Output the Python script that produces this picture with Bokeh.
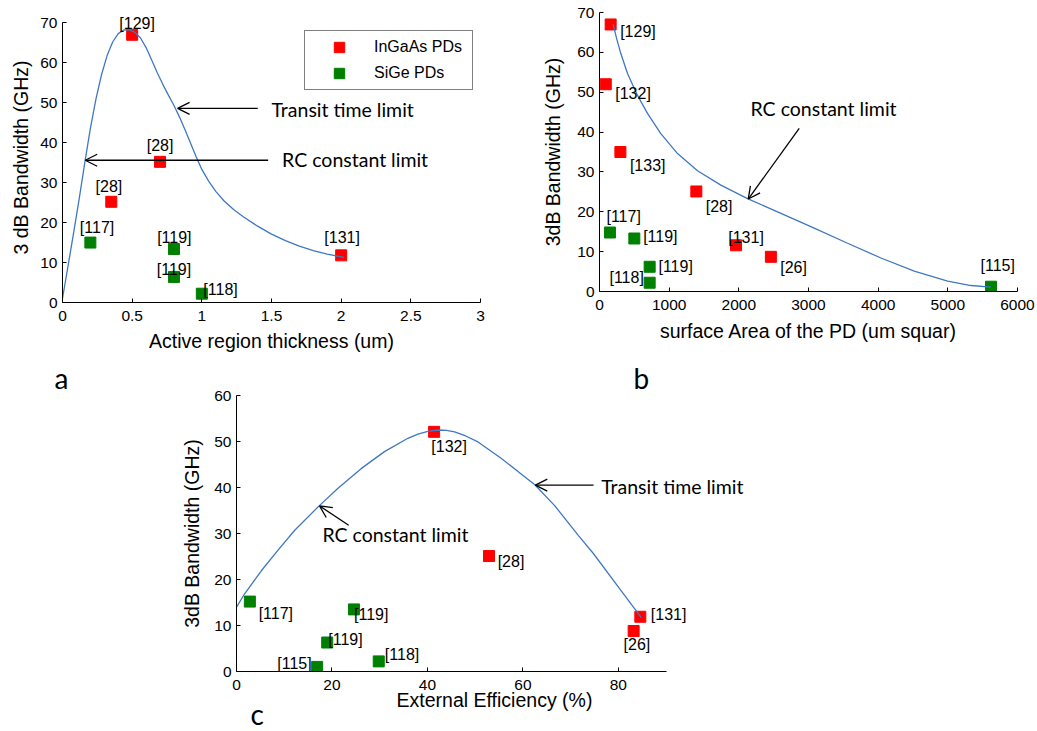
from bokeh.plotting import figure
from bokeh.models import (Range1d, FixedTicker, CustomJSTickFormatter, ColumnDataSource,
                          LabelSet, Label, Arrow, OpenHead, Title, Spacer)
from bokeh.layouts import row, column
from bokeh.core.properties import value
from bokeh.embed import file_html
from bokeh.resources import INLINE

# ---------------- data: panel a (active region thickness) ----------------
a_ingaas_x = [0.5, 0.7, 0.35, 2.0]
a_ingaas_y = [67.0, 35.2, 25.2, 11.8]
a_ingaas_ref = ["[129]", "[28]", "[28]", "[131]"]
a_sige_x = [0.2, 0.8, 0.8, 1.0]
a_sige_y = [15.0, 13.4, 6.4, 2.2]
a_sige_ref = ["[117]", "[119]", "[119]", "[118]"]
a_curve_x = [0, 0.04, 0.08, 0.12, 0.16, 0.20, 0.24, 0.28, 0.32, 0.36, 0.40, 0.44, 0.48,
             0.52, 0.56, 0.60, 0.64, 0.68, 0.72, 0.76, 0.80, 0.84, 0.88, 0.92, 0.96,
             1.00, 1.05, 1.10, 1.16, 1.23, 1.30, 1.40, 1.50, 1.60, 1.70, 1.80, 1.90, 2.02]
a_curve_y = [1.0, 9.2, 17.5, 26.0, 35.0, 43.6, 50.9, 57.0, 61.8, 65.2, 67.3, 68.2, 68.3,
             67.6, 66.2, 63.8, 60.7, 57.5, 54.6, 51.9, 49.3, 46.4, 43.2, 39.8, 36.4,
             33.3, 30.3, 27.8, 25.4, 23.2, 21.4, 19.1, 17.1, 15.5, 14.1, 13.0, 12.1, 11.3]
a_xticks = [0, 0.5, 1, 1.5, 2, 2.5, 3]
a_yticks = [0, 10, 20, 30, 40, 50, 60, 70]

# ---------------- data: panel b (surface area) ----------------
b_ingaas_x = [160, 90, 300, 1390, 1960, 2460]
b_ingaas_y = [67.0, 52.0, 35.0, 25.1, 11.6, 8.7]
b_ingaas_ref = ["[129]", "[132]", "[133]", "[28]", "[131]", "[26]"]
b_sige_x = [150, 500, 720, 720, 5620]
b_sige_y = [14.8, 13.3, 6.2, 2.2, 1.2]
b_sige_ref = ["[117]", "[119]", "[119]", "[118]", "[115]"]
b_curve_x = [196, 250, 306, 402, 545, 689, 880, 1120, 1407, 1742, 2125, 2604, 3082,
             3561, 4040, 4518, 4997, 5332, 5620]
b_curve_y = [67.0, 63.2, 59.7, 54.7, 49.2, 44.7, 39.6, 34.6, 30.3, 26.7, 23.3, 19.6, 15.9,
             12.1, 8.4, 5.1, 2.6, 1.5, 1.1]
b_xticks = [0, 1000, 2000, 3000, 4000, 5000, 6000]
b_yticks = [0, 10, 20, 30, 40, 50, 60, 70]

# ---------------- data: panel c (external efficiency) ----------------
c_ingaas_x = [41.4, 52.9, 84.6, 83.2]
c_ingaas_y = [52.1, 25.1, 11.9, 8.8]
c_ingaas_ref = ["[132]", "[28]", "[131]", "[26]"]
c_sige_x = [2.8, 24.6, 19.0, 29.8, 16.9]
c_sige_y = [15.2, 13.5, 6.3, 2.2, 1.0]
c_sige_ref = ["[117]", "[119]", "[119]", "[118]", "[115]"]
c_curve_x = [0, 1.7, 5.2, 8.7, 12.2, 17.2, 21.2, 26.1, 31.0, 35.9, 38.0, 40.1, 42.2, 44.0,
             45.7, 48.0, 50.6, 55.5, 59.7, 62.5, 66.7, 71.6, 74.8, 79.7, 84.8]
c_curve_y = [14.0, 16.9, 21.9, 26.4, 30.7, 35.9, 39.8, 44.1, 47.8, 50.7, 51.6, 52.2, 52.5, 52.4,
             52.1, 51.2, 49.9, 46.3, 42.9, 40.6, 36.0, 29.6, 25.6, 18.8, 11.7]
c_xticks = [0, 20, 40, 60, 80]
c_yticks = [0, 10, 20, 30, 40, 50, 60]

# ---------------- label placement (screen px: dx right, dy down) ----------------
a_ingaas_off = [(5, -11.4), (0, -16), (-2.3, -15.6), (1, -17.7)]
a_sige_off = [(6.7, -15.3), (0.4, -11.3), (0, -7.7), (18.7, -4.6)]
b_ingaas_off = [(27.3, 6.7), (27.3, 9.3), (27.3, 13.3), (22.7, 15.3), (10, -8), (22.7, 10.3)]
b_sige_off = [(13.7, -16), (26, -2), (26, 0), (-23, -5), (6.7, -21.7)]
c_ingaas_off = [(15, 14.3), (22, 5.7), (28.3, -2.7), (3.3, 13.3)]
c_sige_off = [(26, 11.7), (17.3, 4.7), (18.3, -2.7), (23.3, -6.7), (-22.7, -3)]

# annotations: (text, x, y) and arrows (x_start, y_start, x_end, y_end), in data units
a_notes = [("Transit time limit", 1.5, 48.3), ("RC constant limit", 1.576, 35.8)]
a_arrows = [(1.401, 48.6, 0.826, 48.6), (1.476, 35.6, 0.163, 35.6)]
b_notes = [("RC constant limit", 2168, 46.0)]
b_arrows = [(2867, 40.9, 2135, 23.2)]
c_notes = [("Transit time limit", 76.4, 40.3), ("RC constant limit", 18.0, 29.7)]
c_arrows = [(74.8, 40.5, 62.6, 40.5), (23.5, 31.8, 17.4, 36.0)]

NUM_FONT = "Liberation Sans"
ANN_FONT = "Lato"
RED = "#FF0000"
GREEN = "#008000"
BLUE = "#3F78C2"


def make_fig(w, h, xr, yr, xticks, yticks, xlabel, ylabel, bl, br, bt, bb, xstd, ystd,
             xbounds="auto", ybounds="auto"):
    p = figure(width=w, height=h, x_range=Range1d(*xr), y_range=Range1d(*yr),
               output_backend="svg", toolbar_location=None,
               min_border_left=bl, min_border_right=br, min_border_top=bt, min_border_bottom=bb)
    p.outline_line_color = None
    p.xgrid.visible = False
    p.ygrid.visible = False
    p.background_fill_color = "white"
    p.border_fill_color = "white"
    for ax, ticks, bnd in ((p.xaxis[0], xticks, xbounds), (p.yaxis[0], yticks, ybounds)):
        ax.ticker = FixedTicker(ticks=ticks)
        ax.formatter = CustomJSTickFormatter(code="return String(tick);")
        ax.bounds = bnd
        ax.major_tick_in = 4
        ax.major_tick_out = 0
        ax.minor_tick_line_color = None
        ax.axis_line_color = "black"
        ax.major_tick_line_color = "black"
        ax.major_label_text_font = NUM_FONT
        ax.major_label_text_font_size = "15.5px"
        ax.major_label_text_color = "black"
        ax.axis_label_text_font = NUM_FONT
        ax.axis_label_text_font_size = "19.5px"
        ax.axis_label_text_font_style = "normal"
        ax.axis_label_text_color = "black"
    p.xaxis[0].axis_label = xlabel
    p.yaxis[0].axis_label = ylabel
    p.xaxis[0].major_label_standoff = 8
    p.yaxis[0].major_label_standoff = 5
    p.xaxis[0].axis_label_standoff = xstd
    p.yaxis[0].axis_label_standoff = ystd
    return p


def add_series(p, xs, ys, color, refs, offs, legend=None):
    kw = dict(legend_label=legend) if legend else {}
    p.scatter(xs, ys, marker="square", size=11, fill_color=color, line_color=color, **kw)
    src = ColumnDataSource(dict(x=xs, y=ys, text=refs,
                                dx=[o[0] for o in offs], dy=[-o[1] for o in offs]))
    p.add_layout(LabelSet(x="x", y="y", text="text", x_offset="dx", y_offset="dy", source=src,
                          text_align="center", text_baseline="middle",
                          text_font=value(NUM_FONT), text_font_size=value("16px"),
                          text_color="black"))


def add_notes(p, notes, arrows, size):
    for t, x, y in notes:
        p.add_layout(Label(x=x, y=y, text=t, text_font=ANN_FONT, text_font_size=size,
                           text_align="left", text_baseline="middle", text_color="black"))
    for xs, ys, xe, ye in arrows:
        p.add_layout(Arrow(x_start=xs, y_start=ys, x_end=xe, y_end=ye,
                           line_color="black", line_width=1.3,
                           end=OpenHead(size=12, line_color="black", line_width=1.3)))


def letter(text, offset, standoff, valign):
    return Title(text=text, align="left", offset=offset, standoff=standoff,
                 vertical_align=valign, text_font=ANN_FONT, text_font_size="28px",
                 text_font_style="normal", text_color="black")


# ---------------- panel a ----------------
pa = make_fig(530, 356, (0, 3), (0, 72.58), a_xticks, a_yticks,
              "Active region thickness (um)", "3 dB Bandwidth (GHz)", 62, 50, 12, 54, 6, 5,
              ybounds=(0, 70))
add_series(pa, a_ingaas_x, a_ingaas_y, RED, a_ingaas_ref, a_ingaas_off, "InGaAs PDs")
add_series(pa, a_sige_x, a_sige_y, GREEN, a_sige_ref, a_sige_off, "SiGe PDs")
pa.line(a_curve_x, a_curve_y, line_color=BLUE, line_width=1.3)
add_notes(pa, a_notes, a_arrows, "19.5px")
lg = pa.legend[0]
lg.location = (242, 212)
lg.padding = 3
lg.spacing = 0
lg.glyph_width = 62
lg.glyph_height = 26
lg.label_height = 24
lg.label_width = 95
lg.label_standoff = 4
lg.border_line_color = "black"
lg.border_line_width = 1
lg.background_fill_color = "white"
lg.background_fill_alpha = 1
lg.label_text_font = NUM_FONT
lg.label_text_font_size = "16px"
lg.label_text_color = "black"

# ---------------- panel b ----------------
pb = make_fig(506, 345, (0, 6000), (0, 70), b_xticks, b_yticks,
              "surface Area of the PD (um squar)", "3dB Bandwidth (GHz)", 69, 19, 12, 54, 7, 10)
add_series(pb, b_ingaas_x, b_ingaas_y, RED, b_ingaas_ref, b_ingaas_off)
add_series(pb, b_sige_x, b_sige_y, GREEN, b_sige_ref, b_sige_off)
pb.line(b_curve_x, b_curve_y, line_color=BLUE, line_width=1.3)
add_notes(pb, b_notes, b_arrows, "19.5px")

# ---------------- left blank strip carrying the "a" letter ----------------
pl = figure(width=178, height=374, x_range=Range1d(0, 1), y_range=Range1d(0, 1),
            output_backend="svg", toolbar_location=None, x_axis_type=None, y_axis_type=None,
            min_border_left=0, min_border_right=0, min_border_top=39, min_border_bottom=59)
pl.outline_line_color = None
pl.background_fill_color = "white"
pl.border_fill_color = "white"
pl.title = letter("a", 54, 2, "bottom")

# ---------------- panel c ----------------
pc = make_fig(577, 374, (0, 108.1), (0, 60), c_xticks, c_yticks,
              "External Efficiency (%)", "3dB Bandwidth (GHz)", 58, 3, 39, 59, -4, 8,
              xbounds=(0, 90))
add_series(pc, c_ingaas_x, c_ingaas_y, RED, c_ingaas_ref, c_ingaas_off)
add_series(pc, c_sige_x, c_sige_y, GREEN, c_sige_ref, c_sige_off)
pc.line(c_curve_x, c_curve_y, line_color=BLUE, line_width=1.3)
add_notes(pc, c_notes, c_arrows, "19.5px")
pc.title = letter("b", 397, 2, "bottom")
pc.add_layout(letter("c", 14, -33, "top"), "below")

layout = column(row(column(pa), column(pb, Spacer(width=506, height=11))), row(pl, pc))
open("out.html", "w").write(file_html(layout, INLINE))
